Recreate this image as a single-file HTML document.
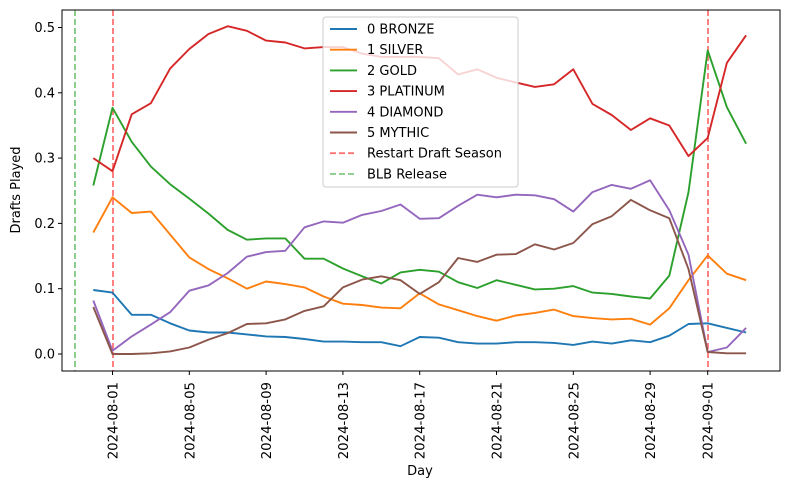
<!DOCTYPE html><html><head><style>body{margin:0;background:#fff}svg{font-family:"DejaVu Sans","Liberation Sans",sans-serif}</style></head><body>
<svg id="s" width="790" height="490" xmlns="http://www.w3.org/2000/svg">
<rect width="790" height="490" fill="#fff"/>
<g id="lines"></g>
<rect x="62" y="10" width="718" height="361" fill="none" stroke="#000" stroke-width="1"/>
<g font-size="13" text-anchor="end" id="yt"></g>
<g font-size="13.3" id="xt"></g>
<text x="420" y="475" font-size="13" text-anchor="middle">Day</text>
<text transform="translate(20,190) rotate(-90)" font-size="13" text-anchor="middle">Drafts Played</text>
<g id="leg"></g>
</svg>
<script>
const NS="http://www.w3.org/2000/svg";
function el(t,a,p,txt){const e=document.createElementNS(NS,t);for(const k in a)e.setAttribute(k,a[k]);if(txt!==undefined)e.textContent=txt;p.appendChild(e);return e;}
const X=i=>93.3+19.2*i, Y=v=>354-653*v;
const S=document.getElementById('s'),L=document.getElementById('lines');
el('line',{x1:75,x2:75,y1:10,y2:371,stroke:'#2ca02c','stroke-opacity':0.6,'stroke-width':1.8,'stroke-dasharray':'6,3'},L);
[113,708].forEach(x=>el('line',{x1:x,x2:x,y1:10,y2:371,stroke:'#ff0000','stroke-opacity':0.55,'stroke-width':1.8,'stroke-dasharray':'6,3'},L));
const D=[
['#1f77b4',[0.098,0.094,0.06,0.06,0.047,0.036,0.033,0.033,0.03,0.027,0.026,0.023,0.019,0.019,0.018,0.018,0.012,0.026,0.025,0.018,0.016,0.016,0.018,0.018,0.017,0.014,0.019,0.016,0.021,0.018,0.028,0.046,0.047,0.04,0.033]],
['#ff7f0e',[0.186,0.24,0.216,0.218,0.183,0.148,0.13,0.116,0.1,0.111,0.107,0.102,0.088,0.077,0.075,0.071,0.07,0.093,0.076,0.067,0.058,0.051,0.059,0.063,0.068,0.058,0.055,0.053,0.054,0.045,0.07,0.113,0.151,0.123,0.113]],
['#2ca02c',[0.258,0.377,0.325,0.287,0.26,0.238,0.215,0.19,0.175,0.177,0.177,0.146,0.146,0.131,0.119,0.108,0.125,0.129,0.126,0.11,0.101,0.113,0.106,0.099,0.1,0.104,0.094,0.092,0.088,0.085,0.12,0.248,0.465,0.378,0.322]],
['#d62728',[0.30,0.28,0.367,0.384,0.437,0.467,0.49,0.502,0.495,0.48,0.477,0.468,0.47,0.47,0.46,0.455,0.455,0.455,0.453,0.428,0.436,0.423,0.416,0.409,0.413,0.436,0.383,0.366,0.343,0.361,0.35,0.303,0.331,0.446,0.488]],
['#9467bd',[0.082,0.005,0.027,0.045,0.064,0.097,0.105,0.124,0.149,0.156,0.158,0.194,0.203,0.201,0.213,0.219,0.229,0.207,0.208,0.227,0.244,0.24,0.244,0.243,0.237,0.218,0.248,0.259,0.253,0.266,0.22,0.152,0.003,0.01,0.04]],
['#8c564b',[0.072,0,0,0.001,0.004,0.01,0.022,0.032,0.046,0.047,0.053,0.066,0.073,0.102,0.114,0.119,0.113,0.092,0.11,0.147,0.141,0.152,0.153,0.168,0.16,0.17,0.199,0.211,0.236,0.22,0.208,0.13,0.003,0.001,0.001]]];
D.forEach(([c,v])=>el('polyline',{points:v.map((y,i)=>X(i).toFixed(1)+','+Y(y).toFixed(1)).join(' '),fill:'none',stroke:c,'stroke-width':1.9,'stroke-linejoin':'round'},L));
const yt=document.getElementById('yt');
[0,0.1,0.2,0.3,0.4,0.5].forEach(v=>{const y=Y(v);el('line',{x1:58,x2:62,y1:y,y2:y,stroke:'#000'},S);el('text',{x:55,y:y+4.5},yt,v.toFixed(1));});
const xt=document.getElementById('xt');
['2024-08-01','2024-08-05','2024-08-09','2024-08-13','2024-08-17','2024-08-21','2024-08-25','2024-08-29','2024-09-01'].forEach((t,k)=>{const i=[1,5,9,13,17,21,25,29,32][k];const x=X(i);el('line',{x1:x,x2:x,y1:371,y2:375,stroke:'#000'},S);el('text',{transform:`translate(${x+5},382) rotate(-90)`,'text-anchor':'end'},xt,t);});
const G=document.getElementById('leg');
el('rect',{x:323,y:17,width:195,height:170,rx:3,fill:'#fff','fill-opacity':0.8,stroke:'#ccc'},G);
const names=['0 BRONZE','1 SILVER','2 GOLD','3 PLATINUM','4 DIAMOND','5 MYTHIC','Restart Draft Season','BLB Release'];
const cols=['#1f77b4','#ff7f0e','#2ca02c','#d62728','#9467bd','#8c564b','#ff0000','#2ca02c'];
names.forEach((n,i)=>{const y=29+20.7*i;const a={x1:330,x2:357,y1:y,y2:y,stroke:cols[i],'stroke-width':1.9};if(i>5){a['stroke-dasharray']='6,3';a['stroke-opacity']=0.55;}el('line',a,G);el('text',{x:367,y:y+4.5,'font-size':13},G,n);});
</script>
</body></html>
